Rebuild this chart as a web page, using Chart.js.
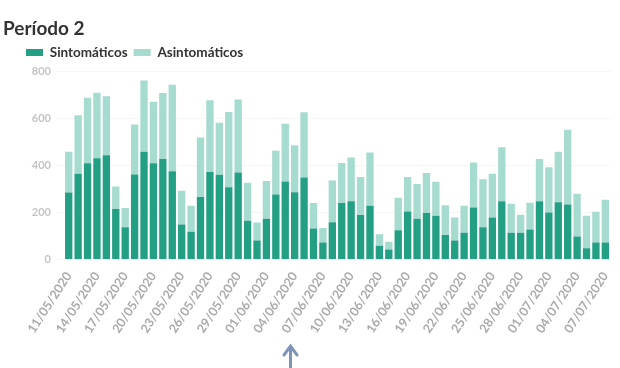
<!DOCTYPE html>
<html lang="es">
<head>
    <meta charset="UTF-8">
    <title>Período 2</title>
    <script src="https://cdn.jsdelivr.net/npm/chart.js"></script>
    <style>
        body {
            margin: 0;
            padding: 0;
            background: #fff;
        }
        .wrap {
            position: relative;
            width: 620px;
            height: 368px;
        }
    </style>
</head>
<body>
    <div class="wrap">
        <canvas id="chart"></canvas>
    </div>

    <script>
        // Daily dates 11/05/2020 .. 07/07/2020
        const labels = [
            '11/05/2020', '12/05/2020', '13/05/2020', '14/05/2020', '15/05/2020', '16/05/2020', '17/05/2020',
            '18/05/2020', '19/05/2020', '20/05/2020', '21/05/2020', '22/05/2020', '23/05/2020', '24/05/2020',
            '25/05/2020', '26/05/2020', '27/05/2020', '28/05/2020', '29/05/2020', '30/05/2020', '31/05/2020',
            '01/06/2020', '02/06/2020', '03/06/2020', '04/06/2020', '05/06/2020', '06/06/2020', '07/06/2020',
            '08/06/2020', '09/06/2020', '10/06/2020', '11/06/2020', '12/06/2020', '13/06/2020', '14/06/2020',
            '15/06/2020', '16/06/2020', '17/06/2020', '18/06/2020', '19/06/2020', '20/06/2020', '21/06/2020',
            '22/06/2020', '23/06/2020', '24/06/2020', '25/06/2020', '26/06/2020', '27/06/2020', '28/06/2020',
            '29/06/2020', '30/06/2020', '01/07/2020', '02/07/2020', '03/07/2020', '04/07/2020', '05/07/2020',
            '06/07/2020', '07/07/2020'
        ];

        const sintomaticos = [
            285, 364, 409, 430, 443, 214, 137, 361, 458, 409, 427, 375, 148, 118,
            265, 372, 360, 307, 370, 164, 80, 173, 276, 331, 286, 348, 131, 72,
            158, 240, 247, 189, 228, 58, 42, 124, 204, 173, 197, 186, 104, 80,
            113, 221, 137, 178, 247, 113, 113, 127, 247, 200, 243, 234, 97, 47,
            72, 72
        ];

        const totales = [
            458, 613, 688, 709, 694, 310, 219, 574, 761, 671, 708, 743, 292, 228,
            519, 677, 581, 627, 680, 326, 157, 333, 462, 577, 486, 626, 240, 134,
            336, 410, 433, 351, 455, 107, 75, 262, 350, 321, 368, 330, 230, 178,
            228, 412, 341, 364, 477, 237, 190, 241, 427, 392, 458, 551, 279, 186,
            203, 254
        ];

        const asintomaticos = totales.map((t, i) => t - sintomaticos[i]);

        const yTicks = [0, 200, 400, 600, 800];

        // Legend a bit taller (more room above the bars) and pushed right
        const legendShift = {
            id: 'legendShift',
            beforeLayout(chart) {
                const lg = chart.legend;
                if (lg && !lg._tall) {
                    const fit = lg.fit;
                    lg.fit = function () {
                        fit.call(this);
                        this.height += 2;
                    };
                    lg._tall = true;
                }
            },
            afterLayout(chart) {
                chart.legend.left += 20;
                chart.legend.right += 20;
                chart.titleBlock.left += 3;
                chart.titleBlock.right += 3;
            }
        };

        // Small up arrow under the x axis
        const arrowPlugin = {
            id: 'arrow',
            afterDraw(chart) {
                const ctx = chart.ctx;
                ctx.save();
                ctx.strokeStyle = '#8094b8';
                ctx.lineWidth = 3;
                ctx.lineCap = 'round';
                ctx.beginPath();
                ctx.moveTo(290.5, 368);
                ctx.lineTo(290.5, 348);
                ctx.stroke();
                ctx.beginPath();
                ctx.moveTo(284, 355);
                ctx.lineTo(290.5, 346);
                ctx.lineTo(297, 355);
                ctx.stroke();
                ctx.restore();
            }
        };

        const ctx = document.getElementById('chart').getContext('2d');
        new Chart(ctx, {
            type: 'bar',
            data: {
                labels: labels,
                datasets: [
                    {
                        label: 'Sintomáticos',
                        data: sintomaticos,
                        backgroundColor: '#23a084',
                        barPercentage: 0.78,
                        categoryPercentage: 1
                    },
                    {
                        label: 'Asintomáticos',
                        data: asintomaticos,
                        backgroundColor: '#a6dbcf',
                        barPercentage: 0.78,
                        categoryPercentage: 1
                    }
                ]
            },
            options: {
                responsive: true,
                maintainAspectRatio: false,
                animation: false,
                layout: {
                    padding: { left: 0, right: 8, top: 2, bottom: 30 }
                },
                plugins: {
                    title: {
                        display: true,
                        text: 'Período 2',
                        align: 'start',
                        color: '#333',
                        font: { family: 'Lato', size: 19, weight: 'bold' },
                        padding: { top: 15, bottom: 0 }
                    },
                    legend: {
                        align: 'start',
                        labels: {
                            color: '#333',
                            font: { family: 'Lato', size: 13.5, weight: 'bold' },
                            boxWidth: 17,
                            boxHeight: 7,
                            padding: 6
                        }
                    },
                    tooltip: { enabled: false }
                },
                scales: {
                    x: {
                        stacked: true,
                        grid: { display: false },
                        border: { display: false },
                        ticks: {
                            autoSkip: false,
                            minRotation: 57,
                            maxRotation: 57,
                            color: '#aaa',
                            font: { family: 'Lato', size: 12.5, weight: 'bold' },
                            padding: 2,
                            callback: function (value, index) {
                                return index % 3 === 0 ? labels[index] : '';
                            }
                        }
                    },
                    y: {
                        stacked: true,
                        min: 0,
                        max: 800,
                        grid: { color: '#f5f5f5' },
                        border: { display: false },
                        afterBuildTicks: function (axis) {
                            axis.ticks = yTicks.map(v => ({ value: v }));
                        },
                        afterFit: function (axis) {
                            axis.width = 64;
                        },
                        ticks: {
                            color: '#c4c4c4',
                            font: { family: 'Lato', size: 11, weight: 'bold' },
                            padding: 5
                        }
                    }
                }
            },
            plugins: [legendShift, arrowPlugin]
        });
    </script>
</body>
</html>
